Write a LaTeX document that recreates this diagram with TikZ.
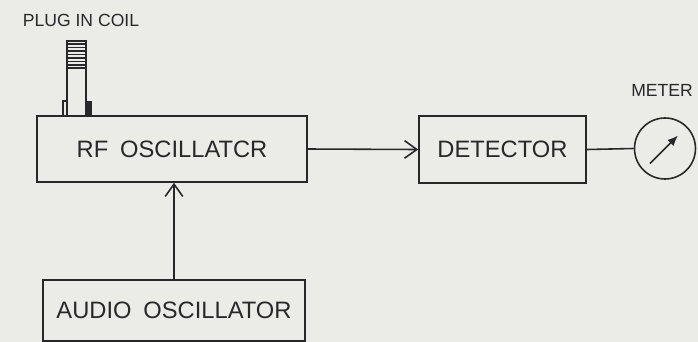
\documentclass[tikz,border=0pt]{standalone}
\usepackage{fontspec}
\setmainfont{Liberation Sans}
\usetikzlibrary{arrows.meta}
\definecolor{paper}{RGB}{235,235,232}
\definecolor{ink}{RGB}{40,40,40}

\begin{document}
\begin{tikzpicture} [x=0.02cm,y=-0.02cm,ink,line width=0.9pt,
		>={Straight Barb[length=7pt,width=10pt,line width=0.9pt]},
		block/.style={draw,rectangle,inner sep=0pt,font=\fontsize{13.5}{15}\selectfont},
		dial/.style={draw,circle,inner sep=0pt,minimum size=61*0.02cm},
		tag/.style={inner sep=0pt,font=\fontsize{10}{12}\selectfont},
		needle/.style={-{Latex[length=6pt,width=5pt]},line width=1pt}]

	\fill [paper] (0,0) rectangle (698,342);
	\useasboundingbox (0,0) rectangle (698,342);

	\node [block, minimum width=270*0.02cm, minimum height=66*0.02cm] (rf-osc) at (172,149) {RF\enspace OSCILLATCR};
	\node [block, minimum width=167*0.02cm, minimum height=67*0.02cm] (detector) at (502.5,149.5) {DETECTOR};
	\node [dial] (meter) at (665,148.5) {};
	\node [block, minimum width=262*0.02cm, minimum height=61*0.02cm] (audio-osc) at (174,310.5) {AUDIO\enspace OSCILLATOR};

	\node [tag] (coil-label) at (81,20) {PLUG IN COIL};
	\node [tag] (meter-label) at (662,90) {METER};

	% plug in coil on top of the rf oscillator
	\draw (67,116) rectangle (86,41);
	\foreach \y in {44,47.5,51,54.5,58,61.5,65,68}
		\draw [line width=0.7pt] (67,\y) -- (86,\y);
	\draw (63,116) rectangle (67,101);
	\fill (86,116) rectangle (92,101);

	% connections
	\draw [->] (rf-osc.east) -- (detector.west);
	\draw (detector.east) -- (meter.west);
	\draw [->] (audio-osc.north) -- (audio-osc.north |- rf-osc.south);
	\draw [needle] ([shift={(-15,15)}]meter.center) -- ([shift={(13,-13)}]meter.center);
\end{tikzpicture}
\end{document}
